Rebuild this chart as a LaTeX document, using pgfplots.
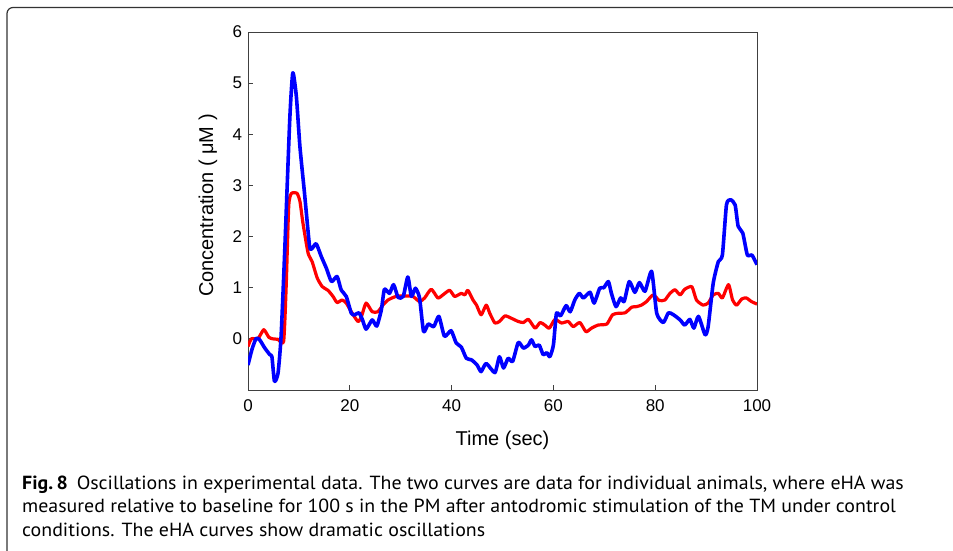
\documentclass[border=0pt]{standalone}
\usepackage{fontspec}
\setmainfont{Liberation Sans}
\newfontfamily\capfont{PT Sans}
\usepackage{pgfplots}
\pgfplotsset{compat=1.18}
\begin{document}
\begin{tikzpicture}[x=1pt,y=1pt]
\useasboundingbox (0,0) rectangle (953,550);
\draw[line width=1.2pt, black!80, rounded corners=6pt] (7,-2) -- (7,542.5) -- (960,542.5);
\begin{axis}[at={(248pt,160pt)}, anchor=south west, scale only axis,
  width=509pt, height=358pt,
  xmin=0, xmax=100, ymin=-1, ymax=6,
  xtick={0,20,...,100}, ytick={0,1,...,6},
  tick align=inside, xtick pos=bottom, ytick pos=left,
  major tick length=5pt,
  axis line style={line width=1pt, black!75},
  tick style={line width=0.8pt, black!75},
  /pgf/number format/assume math mode=true,
  ticklabel style={font=\fontsize{17}{20}\selectfont},
  yticklabel style={xshift=-2.5pt},
  xticklabel style={yshift=-6pt},
  xlabel={Time (sec)}, ylabel={Concentration ( μM )},
  label style={font=\fontsize{20}{23}\selectfont},
  xlabel style={at={(axis description cs:0.5,-0.1397)}, anchor=center},
  ylabel style={at={(axis description cs:-0.0786,0.515)}, anchor=center},
  clip=true]
\addplot[color={rgb,255:red,255;green,0;blue,0}, line width=3.2pt, line join=round, smooth, tension=0.35] coordinates {
(0,-0.15) (0.65,0) (2.0,0.01) (3.1,0.18) (4.1,0.03) (4.9,0) (5.9,-0.01) (7.0,-0.05)
(7.5,1.02) (8.0,2.59) (8.5,2.84) (9.6,2.85) (10.2,2.69) (10.8,2.26) (11.8,1.68)
(12.6,1.51) (13.6,1.19) (14.6,1.02) (15.7,0.95) (16.7,0.83) (17.5,0.71) (18.5,0.76)
(19.3,0.70) (20.3,0.53) (21.6,0.34) (22.3,0.44) (23.2,0.70) (24.4,0.53) (25.5,0.53)
(26.5,0.66) (27.5,0.76) (29.1,0.83) (31.1,0.84) (32.4,0.83) (33.7,0.73) (34.7,0.80)
(36.0,0.97) (37.3,0.80) (38.3,0.86) (39.6,0.95) (40.6,0.83) (41.9,0.89) (42.6,0.86)
(43.2,0.95) (44.2,0.76) (44.9,0.66) (45.8,0.47) (46.8,0.66) (47.5,0.50) (48.5,0.31)
(49.4,0.34) (50.5,0.45) (51.8,0.40) (53.1,0.34) (54.1,0.32) (55.1,0.38) (56.4,0.21)
(57.4,0.32) (58.3,0.27) (59.2,0.21) (60.3,0.38) (61.6,0.31) (62.9,0.34) (63.9,0.24)
(65.2,0.32) (66.4,0.14) (67.5,0.21) (68.8,0.27) (70.5,0.29) (71.6,0.47) (72.7,0.50)
(74.1,0.51) (75.4,0.62) (76.3,0.63) (77.3,0.66) (78.3,0.73) (79.6,0.86) (80.8,0.75)
(81.9,0.76) (82.9,0.89) (83.9,0.96) (84.9,0.86) (85.8,0.97) (87.2,1.02) (88.1,0.76)
(89.4,0.66) (90.4,0.70) (91.4,0.86) (92.4,0.89) (93.2,0.80) (94.4,1.06) (95.2,0.76)
(96.0,0.66) (97.0,0.78) (97.9,0.80) (98.9,0.73) (100,0.68)
};
\addplot[color={rgb,255:red,0;green,0;blue,255}, line width=3.6pt, line join=round, smooth, tension=0.35] coordinates {
(0,-0.51) (0.8,-0.2) (1.6,0.01) (2.3,-0.02) (3.3,-0.18) (4.3,-0.31) (4.7,-0.35)
(5.2,-0.83) (5.9,-0.67) (6.5,0.05) (7.2,1.68) (8.2,4.28) (8.8,5.2) (9.5,4.74)
(10.2,3.76) (11.1,2.85) (12.1,1.81) (12.6,1.77) (13.4,1.86) (14.4,1.61) (15.4,1.38)
(16.4,1.12) (17.5,1.22) (18.3,0.96) (19.3,0.83) (20.3,0.50) (20.95,0.47) (21.8,0.51)
(22.5,0.37) (23.2,0.19) (24.4,0.37) (25.3,0.25) (26.2,0.57) (26.8,0.97) (27.8,0.89)
(28.6,1.06) (29.5,0.81) (30.5,0.83) (31.4,1.21) (32.1,0.83) (32.9,0.99) (33.7,0.80)
(34.5,0.14) (35.4,0.29) (36.5,0.24) (37.5,0.44) (38.6,0.05) (39.9,0.16) (40.9,-0.08)
(41.9,-0.16) (42.9,-0.38) (43.9,-0.41) (45.0,-0.51) (45.8,-0.64) (46.8,-0.48)
(48.5,-0.66) (49.4,-0.35) (50.2,-0.57) (51.1,-0.38) (52.0,-0.44) (53.1,-0.07)
(54.1,-0.18) (55.1,-0.12) (55.7,-0.02) (56.4,-0.15) (57.2,-0.12) (58.0,-0.31)
(58.7,-0.27) (59.3,-0.35) (60.0,-0.12) (60.6,0.50) (61.4,0.45) (62.5,0.65) (63.3,0.53)
(64.2,0.76) (65.1,0.89) (65.9,0.80) (67.2,0.91) (68.0,0.70) (69.1,0.99) (69.9,1.00)
(70.8,1.12) (71.4,0.89) (72.3,0.63) (73.2,0.80) (73.9,0.73) (74.9,1.12) (76.0,0.91)
(76.9,1.10) (78.0,0.93) (79.3,1.32) (80.3,0.50) (81.6,0.32) (82.6,0.51) (83.6,0.47)
(84.9,0.37) (85.8,0.27) (86.8,0.38) (87.6,0.21) (88.5,0.44) (89.8,0.08) (90.4,0.24)
(91.4,1.09) (92.4,1.51) (93.2,1.64) (94.0,2.62) (94.8,2.72) (95.7,2.62) (96.3,2.20)
(97.2,2.07) (98.1,1.64) (99.0,1.64) (100,1.45)
};
\end{axis}
\begin{scope}[every node/.style={anchor=base west, inner sep=0pt, font=\capfont\fontsize{19}{22}\selectfont}]
\node at (22,61) {\scalebox{1.047}[1]{\textbf{Fig.\,8}\hspace{0.45em}Oscillations in experimental data. The two curves are data for individual animals, where eHA was}};
\node at (22,38) {\scalebox{1.047}[1]{measured relative to baseline for 100 s in the PM after antodromic stimulation of the TM under control}};
\node at (22,14) {\scalebox{1.047}[1]{conditions. The eHA curves show dramatic oscillations}};
\end{scope}
\end{tikzpicture}
\end{document}
